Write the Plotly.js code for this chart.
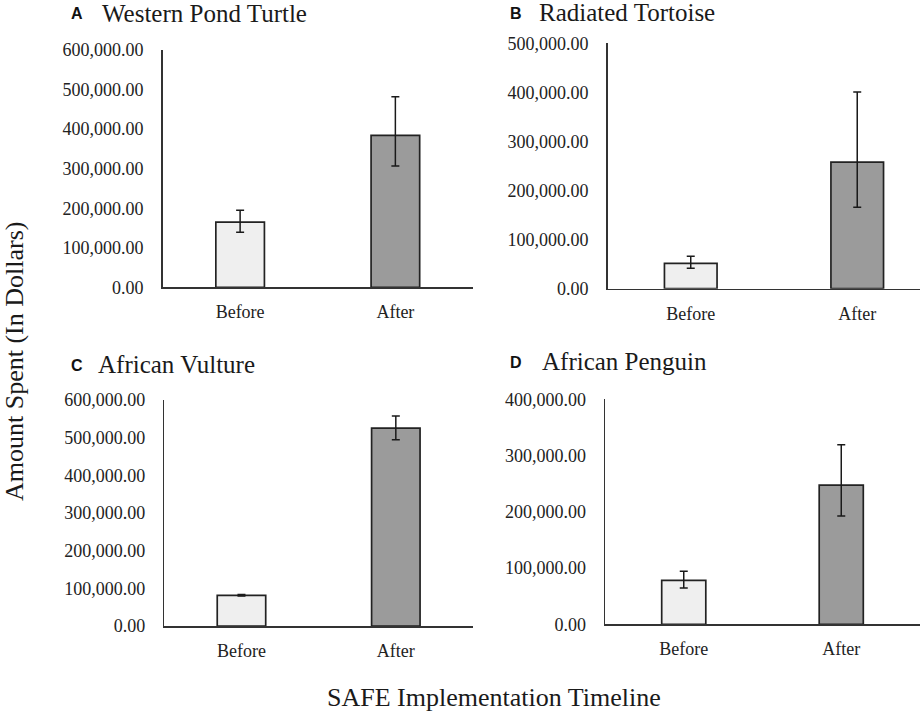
<!DOCTYPE html>
<html>
<head>
<meta charset="utf-8">
<script src="https://cdn.plot.ly/plotly-3.0.1.min.js"></script>
<style>html,body{margin:0;padding:0;background:#fff}#chart{width:920px;height:716px}</style>
</head>
<body>
<div id="chart"></div>
<script>
const categories = ['Before', 'After'];
const turtleMean = [165000, 384000];
const turtlePlus = [30000, 98000];
const turtleMinus = [26000, 77000];
const tortoiseMean = [51800, 258000];
const tortoisePlus = [14200, 143000];
const tortoiseMinus = [10200, 92000];
const vultureMean = [81500, 525500];
const vulturePlus = [2000, 32000];
const vultureMinus = [2000, 31000];
const penguinMean = [78200, 247600];
const penguinPlus = [16000, 71700];
const penguinMinus = [13700, 55100];
const panelLetters = ['A', 'B', 'C', 'D'];
const panelNames = ['Western Pond Turtle', 'Radiated Tortoise', 'African Vulture', 'African Penguin'];
const yTitle = 'Amount Spent (In Dollars)';
const xTitle = 'SAFE Implementation Timeline';

const W = 920, H = 716;
const px = v => v / W;
const py = v => 1 - v / H;
const serif = 'Liberation Serif, Times New Roman, serif';
const fillColors = ['#efefef', '#9b9b9b'];

function barTrace(mean, plus, minus, xa, ya, width) {
  return {
    type: 'bar', x: categories, y: mean, xaxis: xa, yaxis: ya,
    width: width,
    marker: {color: fillColors, line: {color: '#222', width: 1.7}},
    error_y: {type: 'data', symmetric: false, array: plus, arrayminus: minus,
              color: '#1a1a1a', thickness: 1.5, width: 4},
    hoverinfo: 'none', showlegend: false
  };
}

const data = [
  barTrace(turtleMean, turtlePlus, turtleMinus, 'x', 'y', 0.313),
  barTrace(tortoiseMean, tortoisePlus, tortoiseMinus, 'x2', 'y2', 0.316),
  barTrace(vultureMean, vulturePlus, vultureMinus, 'x3', 'y3', 0.314),
  barTrace(penguinMean, penguinPlus, penguinMinus, 'x4', 'y4', 0.28)
];

function xax(domain, range, anchor) {
  return {domain: domain, range: range, anchor: anchor, type: 'category',
    showline: true, linecolor: '#333', linewidth: 1.5, showgrid: false, zeroline: false,
    ticks: '', ticklabelstandoff: 8, tickfont: {family: serif, size: 18, color: '#222'}, fixedrange: true};
}
function yax(domain, range, anchor) {
  return {domain: domain, range: range, anchor: anchor,
    showline: true, linecolor: '#333', linewidth: 1.5, showgrid: false, zeroline: false,
    ticks: '', dtick: 100000, tickformat: ',.2f', ticklabelstandoff: 14,
    tickfont: {family: serif, size: 18, color: '#222'}, fixedrange: true};
}

const titlePos = [
  {lx: 69, tx: 100, y: 13},
  {lx: 507.7, tx: 537, y: 12},
  {lx: 69, tx: 96, y: 364},
  {lx: 507.7, tx: 540, y: 361}
];

const annotations = [];
titlePos.forEach((p, i) => {
  annotations.push({xref: 'paper', yref: 'paper', x: px(p.lx), y: py(p.y + 1), xanchor: 'left', yanchor: 'middle',
    text: '<b>' + panelLetters[i] + '</b>', showarrow: false,
    font: {family: 'Liberation Sans, Arial, sans-serif', size: 16, color: '#111'}});
  annotations.push({xref: 'paper', yref: 'paper', x: px(p.tx), y: py(p.y), xanchor: 'left', yanchor: 'middle',
    text: panelNames[i], showarrow: false,
    font: {family: serif, size: 25, color: '#1a1a1a'}});
});
annotations.push({xref: 'paper', yref: 'paper', x: px(14), y: py(362), xanchor: 'center', yanchor: 'middle',
  text: yTitle, textangle: -90, showarrow: false, font: {family: serif, size: 26, color: '#1a1a1a'}});
annotations.push({xref: 'paper', yref: 'paper', x: px(494), y: py(697), xanchor: 'center', yanchor: 'middle',
  text: xTitle, showarrow: false, font: {family: serif, size: 26, color: '#1a1a1a'}});

const layout = {
  width: W, height: H,
  margin: {l: 0, r: 0, t: 0, b: 0},
  paper_bgcolor: '#fff', plot_bgcolor: '#fff',
  xaxis: xax([px(162.5), px(473)], [-0.5, 1.5], 'y'),
  yaxis: yax([py(287.3), py(50)], [0, 600000], 'x'),
  xaxis2: xax([px(607.5), 1], [-0.5, 1.377], 'y2'),
  yaxis2: yax([py(288.7), py(43.3)], [0, 500000], 'x2'),
  xaxis3: xax([px(164.3), px(473)], [-0.5, 1.5], 'y3'),
  yaxis3: yax([py(626), py(400)], [0, 600000], 'x3'),
  xaxis4: xax([px(605), 1], [-0.5, 1.5], 'y4'),
  yaxis4: yax([py(624.3), py(399.3)], [0, 400000], 'x4'),
  annotations: annotations,
  bargap: 0
};

Plotly.newPlot('chart', data, layout, {displayModeBar: false, staticPlot: true});
</script>
</body>
</html>
